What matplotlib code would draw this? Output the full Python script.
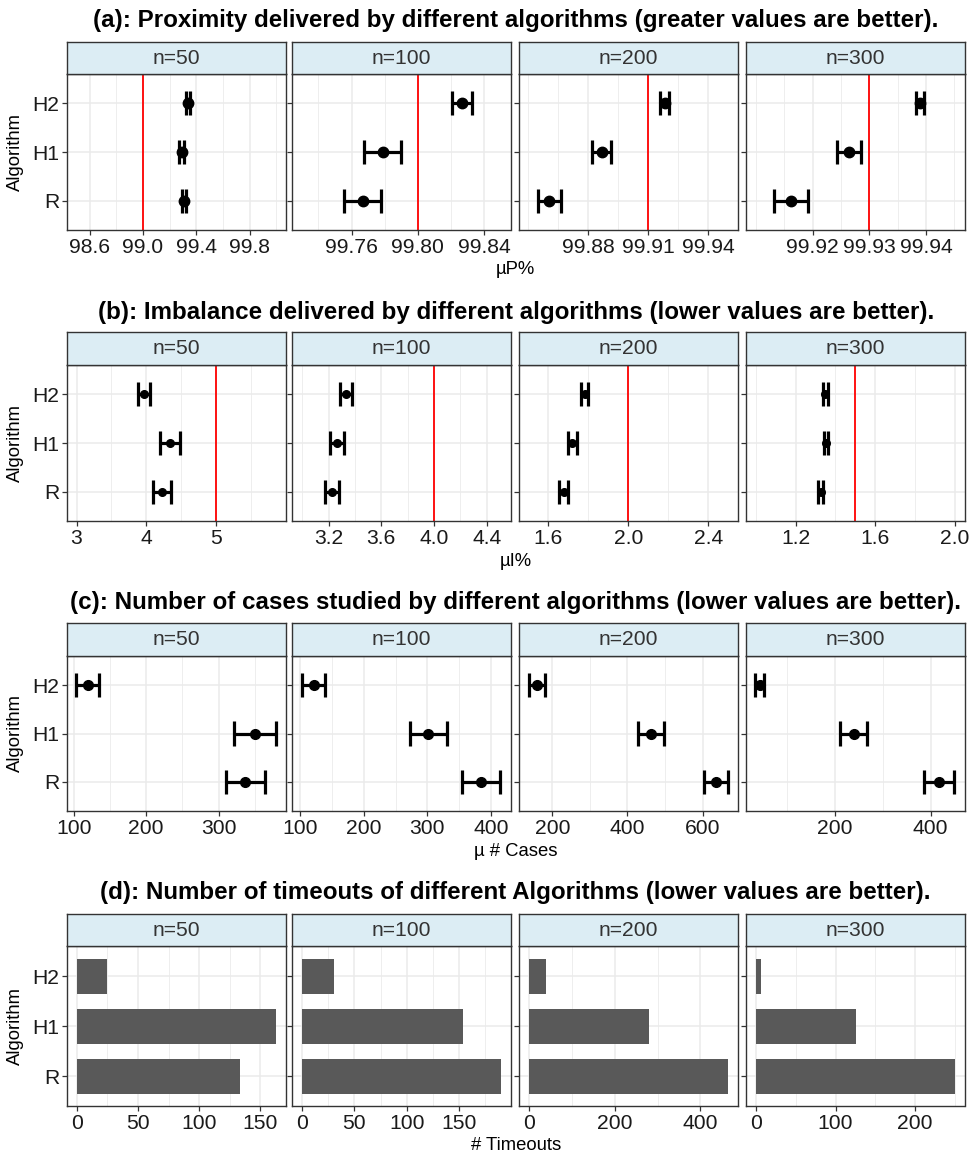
import matplotlib
matplotlib.use("Agg")
import matplotlib.pyplot as plt
import numpy as np

plt.rcParams['font.family'] = ['Liberation Sans', 'DejaVu Sans']

# ---------------- data ----------------
algorithms = ["R", "H1", "H2"]
facets = ["n=50", "n=100", "n=200", "n=300"]

# (a) proximity, mean and half-width of CI per facet, order R, H1, H2
prox_mean = [[99.31, 99.29, 99.34],
             [99.7666, 99.7787, 99.8265],
             [99.8604, 99.8868, 99.9184],
             [99.9161, 99.9264, 99.9390]]
prox_err = [[0.016, 0.016, 0.016],
            [0.0112, 0.011, 0.006],
            [0.0058, 0.0048, 0.0022],
            [0.0030, 0.0021, 0.0007]]
prox_ref = [99.0, 99.80, 99.91, 99.93]
prox_lims = [[98.43, 100.07], [99.724, 99.856], [99.8453, 99.9548], [99.9082, 99.9468]]
prox_ticks = [[98.6, 99.0, 99.4, 99.8], [99.76, 99.80, 99.84],
              [99.88, 99.91, 99.94], [99.92, 99.93, 99.94]]
prox_dec = [1, 2, 2, 2]

# (b) imbalance
imb_mean = [[4.219, 4.34, 3.968],
            [3.228, 3.263, 3.333],
            [1.677, 1.72, 1.782],
            [1.326, 1.353, 1.349]]
imb_err = [[0.13, 0.14, 0.085],
           [0.055, 0.053, 0.046],
           [0.022, 0.021, 0.018],
           [0.012, 0.011, 0.011]]
imb_ref = [5.0, 4.0, 2.0, 1.5]
imb_lims = [[2.864, 5.99], [2.923, 4.581], [1.4527, 2.547], [0.95, 2.049]]
imb_ticks = [[3, 4, 5], [3.2, 3.6, 4.0, 4.4], [1.6, 2.0, 2.4], [1.2, 1.6, 2.0]]
imb_dec = [0, 1, 1, 1]

# (c) number of cases
cases_mean = [[336.8, 349.7, 119.3],
              [384.6, 301.6, 120.9],
              [635.6, 463.0, 159.0],
              [418.0, 239.7, 43.2]]
cases_err = [[27, 29, 16],
             [30, 29, 18],
             [33, 34, 22],
             [32, 28, 9]]
cases_lims = [[90.8, 392], [87, 431], [111, 693], [14.6, 471]]
cases_ticks = [[100, 200, 300], [100, 200, 300, 400], [200, 400, 600], [200, 400]]

# (d) timeouts
timeouts = [[133.2, 162.5, 24.4],
            [189.6, 153.8, 30.4],
            [463.3, 280.3, 40.9],
            [249.5, 126.0, 6.2]]
timeout_ticks = [[0, 50, 100, 150], [0, 50, 100, 150], [0, 200, 400], [0, 100, 200]]

titles = ["(a): Proximity delivered by different algorithms (greater values are better).",
          "(b): Imbalance delivered by different algorithms (lower values are better).",
          "(c): Number of cases studied by different algorithms (lower values are better).",
          "(d): Number of timeouts of different Algorithms (lower values are better)."]
xtitles = ["\u00b5P%", "\u00b5I%", "\u00b5 # Cases", "# Timeouts"]

# ---------------- layout (pixels) ----------------
W, H = 971, 1155
fig = plt.figure(figsize=(W / 100, H / 100), dpi=100)

col_left = [67, 292, 519, 746]
col_w = 218.5
rows = [  # strip_top, strip_bottom(panel_top), panel_bottom, title_y, xtitle_y
    (42, 74, 230, 20, 270),
    (332, 365, 521, 312, 561),
    (623, 656, 811, 602, 851),
    (914, 946, 1106, 893, 1145),
]

BORDER = '#333333'
GRID = '#EBEBEB'
STRIP = '#DCEDF4'
TICKFS = 15.2
STRIPFS = 15.2
AXFS = 13.3
TITLEFS = 17.4


def frac(x0, y0, x1, y1):
    return [x0 / W, 1 - y1 / H, (x1 - x0) / W, (y1 - y0) / H]


def minor_breaks(ticks, lims):
    d = ticks[1] - ticks[0]
    ext = [ticks[0] - d] + list(ticks) + [ticks[-1] + d]
    mids = [(a + b) / 2 for a, b in zip(ext[:-1], ext[1:])]
    cand = mids + [ext[0], ext[-1]]
    return [m for m in cand if lims[0] <= m <= lims[1]]


def setup_panel(r, c, lims, ticks, labels):
    st, pt, pb = rows[r][0], rows[r][1], rows[r][2]
    x0 = col_left[c]
    ax = fig.add_axes(frac(x0, pt, x0 + col_w, pb))
    ax.set_xlim(lims)
    ax.set_ylim(0.4, 3.6)
    ax.set_xticks(ticks)
    ax.set_xticklabels(labels)
    ax.set_xticks(minor_breaks(ticks, lims), minor=True)
    ax.set_yticks([1, 2, 3])
    if c == 0:
        ax.set_yticklabels(algorithms)
    else:
        ax.set_yticklabels([])
        ax.tick_params(axis='y', length=0)
    ax.grid(True, which='major', color=GRID, lw=1.1, zorder=0)
    ax.grid(True, which='minor', axis='x', color=GRID, lw=0.6, zorder=0)
    ax.set_axisbelow(True)
    ax.tick_params(axis='both', which='major', labelsize=TICKFS, colors=BORDER,
                   labelcolor='#1A1A1A', length=3.5, width=0.9, pad=2)
    ax.tick_params(axis='x', which='minor', length=0)
    for s in ax.spines.values():
        s.set_color(BORDER)
        s.set_linewidth(1.0)
    sax = fig.add_axes(frac(x0, st, x0 + col_w, pt))
    sax.set_facecolor(STRIP)
    sax.set_xticks([])
    sax.set_yticks([])
    for s in sax.spines.values():
        s.set_color(BORDER)
        s.set_linewidth(1.0)
    sax.text(0.5, 0.5, facets[c], ha='center', va='center', fontsize=STRIPFS,
             color='#333333', transform=sax.transAxes)
    return ax


ypos = np.array([1, 2, 3])


def draw_ci(ax, means, errs, ref, ms, lw=2.3):
    means = np.asarray(means)
    errs = np.asarray(errs)
    lo, hi = means - errs, means + errs
    if ref is not None:
        ax.axvline(ref, color='#FF0000', lw=1.3, zorder=2)
    ax.hlines(ypos, lo, hi, color='black', lw=lw, zorder=3)
    ax.vlines(lo, ypos - 0.25, ypos + 0.25, color='black', lw=lw, zorder=3)
    ax.vlines(hi, ypos - 0.25, ypos + 0.25, color='black', lw=lw, zorder=3)
    ax.plot(means, ypos, 'o', color='black', ms=ms, zorder=4)


for c in range(4):
    # (a)
    labs = [f"{t:.{prox_dec[c]}f}" for t in prox_ticks[c]]
    ax = setup_panel(0, c, prox_lims[c], prox_ticks[c], labs)
    draw_ci(ax, prox_mean[c], prox_err[c], prox_ref[c], ms=7.5)
    # (b)
    labs = [f"{t:.{imb_dec[c]}f}" for t in imb_ticks[c]]
    ax = setup_panel(1, c, imb_lims[c], imb_ticks[c], labs)
    draw_ci(ax, imb_mean[c], imb_err[c], imb_ref[c], ms=5.5)
    # (c)
    labs = [str(t) for t in cases_ticks[c]]
    ax = setup_panel(2, c, cases_lims[c], cases_ticks[c], labs)
    draw_ci(ax, cases_mean[c], cases_err[c], None, ms=7)
    # (d)
    vmax = max(timeouts[c])
    lims = [-0.05 * vmax, 1.05 * vmax]
    labs = [str(t) for t in timeout_ticks[c]]
    ax = setup_panel(3, c, lims, timeout_ticks[c], labs)
    ax.barh(ypos, timeouts[c], height=0.7, color='#595959', zorder=3)

panel_center_x = (col_left[0] + col_left[3] + col_w) / 2
for r in range(4):
    st, pt, pb, ty, xty = rows[r]
    fig.text(panel_center_x / W, 1 - ty / H, titles[r], ha='center', va='center',
             fontsize=TITLEFS, fontweight='bold', color='black')
    fig.text(panel_center_x / W, 1 - xty / H, xtitles[r], ha='center', va='center',
             fontsize=AXFS, color='black')
    fig.text(15 / W, 1 - ((pt + pb) / 2) / H, "Algorithm", ha='center', va='center',
             rotation=90, fontsize=AXFS, color='black')

fig.savefig("out.png", dpi=100, facecolor='white')
